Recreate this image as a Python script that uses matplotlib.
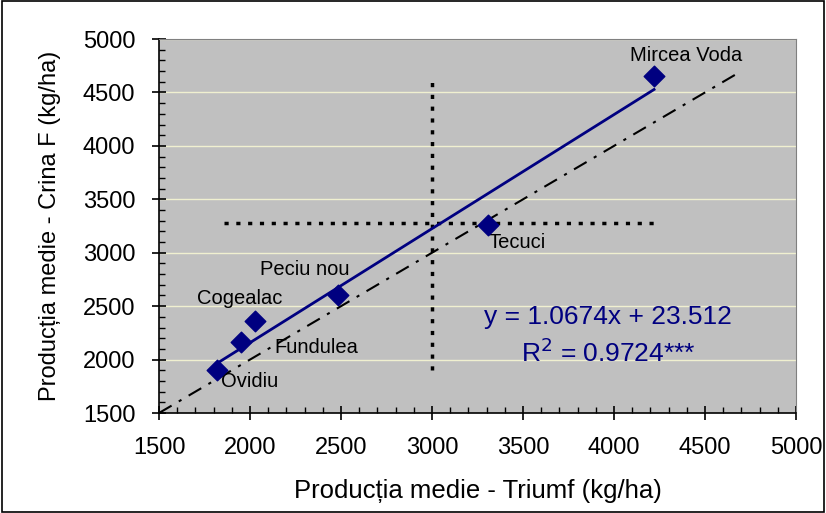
"""Productia medie Crina F vs Triumf - diagrama de corelatie"""

import matplotlib
matplotlib.use('Agg')
import matplotlib.pyplot as plt
from matplotlib.patches import Rectangle
from matplotlib.ticker import MultipleLocator

plt.rcParams['font.family'] = ['Liberation Sans', 'DejaVu Sans']

# Date
localitati = ['Ovidiu', 'Fundulea', 'Cogealac', 'Peciu nou', 'Tecuci', 'Mircea Voda']
triumf = [1820, 1950, 2025, 2485, 3305, 4220]
crina = [1900, 2160, 2365, 2605, 3260, 4650]

panta, interceptie = 1.0674, 23.512
linie_1_1 = [1500, 4700]
medie_x, medie_x_ymin, medie_x_ymax = 3000, 1900, 4650
medie_y, medie_y_xmin, medie_y_xmax = 3278, 1855, 4240

# deplasarea etichetelor in pixeli
offsets = {
    'Ovidiu': (4, -11),
    'Fundulea': (33, -5),
    'Cogealac': (-58, 22),
    'Peciu nou': (-78, 25),
    'Tecuci': (1, -18),
    'Mircea Voda': (-24, 21),
}

fig = plt.figure(figsize=(8.26, 5.13), dpi=100)
ax = fig.add_axes([0.1925, 0.1949, 0.7712, 0.729])
ax.set_facecolor('#c0c0c0')

# chenar exterior
fig.patches.append(Rectangle((0.002, 0.002), 0.996, 0.996, transform=fig.transFigure,
                             fill=False, edgecolor='black', linewidth=1.2))

# linii auxiliare
ax.plot([medie_x, medie_x], [medie_x_ymin, medie_x_ymax], color='black', lw=2.5,
        linestyle=(0, (1.2, 2.2)), zorder=3)
ax.plot([medie_y_xmin, medie_y_xmax], [medie_y, medie_y], color='black', lw=2.5,
        linestyle=(0, (1.2, 2.2)), zorder=3)
ax.plot(linie_1_1, linie_1_1, color='black', lw=1.5,
        linestyle=(0, (7, 4, 1.5, 4)), zorder=3)

# dreapta de regresie
x_min, x_max = min(triumf), max(triumf)
ax.plot([x_min, x_max], [panta * x_min + interceptie, panta * x_max + interceptie],
        color='#000080', lw=2, zorder=4)

ax.scatter(triumf, crina, marker='D', s=110, c='#000080', zorder=5)

for nume, x, y in zip(localitati, triumf, crina):
    ax.annotate(nume, (x, y), textcoords='offset pixels', xytext=offsets[nume],
                ha='left', va='center', fontsize=14.5, color='black')

ax.text(3967, 2398, 'y = 1.0674x + 23.512', ha='center', va='center',
        fontsize=19, color='#000080')
ax.text(3967, 2061, r'R$^2$ = 0.9724***', ha='center', va='center',
        fontsize=19, color='#000080')

ax.set_xlim(1500, 5000)
ax.set_ylim(1500, 5000)
ax.xaxis.set_major_locator(MultipleLocator(500))
ax.yaxis.set_major_locator(MultipleLocator(500))
ax.xaxis.set_minor_locator(MultipleLocator(100))
ax.yaxis.set_minor_locator(MultipleLocator(100))
ax.tick_params(which='major', direction='inout', length=10, width=1.2,
               labelsize=17, pad=12)
ax.tick_params(which='minor', direction='in', length=4, width=1)

ax.yaxis.grid(True, which='major', color='#f0f0d0', lw=1)
ax.set_axisbelow(True)

for s in ['top', 'right']:
    ax.spines[s].set_color('#808080')
for s in ['left', 'bottom']:
    ax.spines[s].set_color('black')
    ax.spines[s].set_linewidth(1.2)

ax.set_xlabel('Producția medie - Triumf (kg/ha)', fontsize=18.5, labelpad=15)
ax.set_ylabel('Producția medie - Crina F (kg/ha)', fontsize=17, labelpad=16)

fig.savefig('out.png', dpi=100)
